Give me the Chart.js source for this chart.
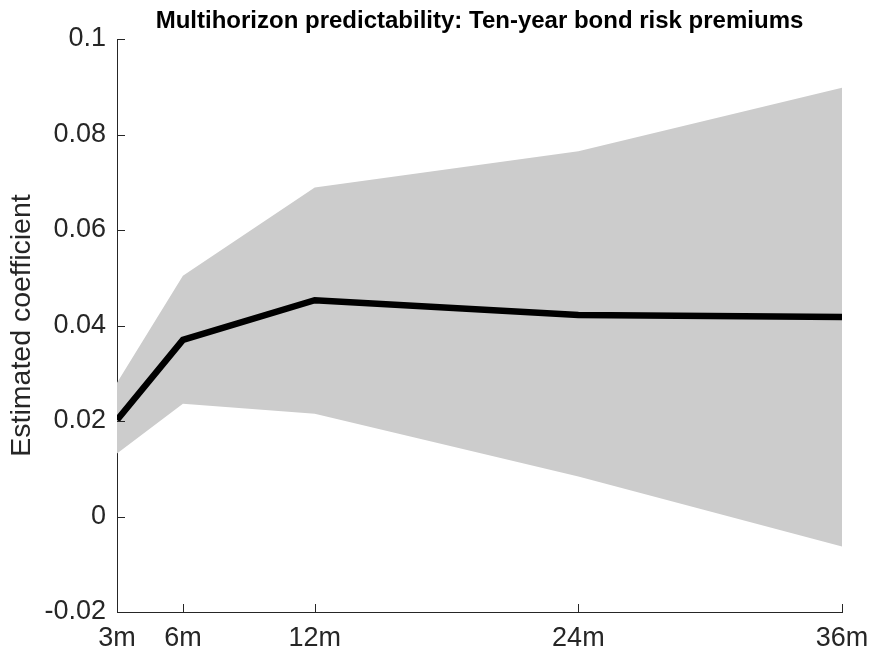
<!DOCTYPE html>
<html>
<head>
<meta charset="utf-8">
<title>Multihorizon predictability</title>
<script src="https://cdn.jsdelivr.net/npm/chart.js@4.4.1/dist/chart.umd.min.js"></script>
<style>
  html, body { margin: 0; padding: 0; background: #fff; }
  #wrap { width: 872px; height: 659px; position: relative; }
</style>
</head>
<body>
<div id="wrap"><canvas id="chart"></canvas></div>
<script>
// Horizons in months and the estimated coefficients with their band
const horizons = [3, 6, 12, 24, 36];
const estimate = [0.0202, 0.0370, 0.0453, 0.0422, 0.0418];
const upperBand = [0.0280, 0.0504, 0.0689, 0.0765, 0.0898];
const lowerBand = [0.0132, 0.0236, 0.0215, 0.0084, -0.0063];
const yTicks = [-0.02, 0, 0.02, 0.04, 0.06, 0.08, 0.1];

const titleText = 'Multihorizon predictability: Ten-year bond risk premiums';
const yTitle = 'Estimated coefficient';

const FONT = '"Liberation Sans", Arial, Helvetica, sans-serif';
const AXIS_COLOR = '#262626';

const toPoints = (ys) => horizons.map((h, i) => ({ x: h, y: ys[i] }));

// MATLAB style tick marks pointing into the plot area
const inwardTicks = {
  id: 'inwardTicks',
  afterDraw(chart) {
    const ctx = chart.ctx;
    const xs = chart.scales.x;
    const ys = chart.scales.y;
    const len = 8;
    ctx.save();
    ctx.strokeStyle = AXIS_COLOR;
    ctx.lineWidth = 1;
    ctx.beginPath();
    ys.ticks.forEach(t => {
      const py = Math.round(ys.getPixelForValue(t.value)) + 0.5;
      ctx.moveTo(ys.right, py);
      ctx.lineTo(ys.right + len, py);
    });
    xs.ticks.forEach(t => {
      const px = Math.round(xs.getPixelForValue(t.value)) + 0.5;
      ctx.moveTo(px, xs.top);
      ctx.lineTo(px, xs.top - len);
    });
    ctx.stroke();
    ctx.restore();
  }
};

// title centred over the plot area, like the axes title
const axesTitle = {
  id: 'axesTitle',
  afterDraw(chart) {
    const ctx = chart.ctx;
    const area = chart.chartArea;
    ctx.save();
    ctx.fillStyle = '#000000';
    ctx.font = 'bold 24px ' + FONT;
    ctx.textAlign = 'center';
    ctx.textBaseline = 'alphabetic';
    ctx.fillText(titleText, (area.left + area.right) / 2, 28);
    ctx.restore();
  }
};

const ctx = document.getElementById('chart').getContext('2d');

new Chart(ctx, {
  type: 'line',
  data: {
    datasets: [
      {
        label: 'Estimate',
        data: toPoints(estimate),
        borderColor: '#000000',
        borderWidth: 6.5,
        borderCapStyle: 'butt',
        borderJoinStyle: 'miter',
        pointRadius: 0,
        fill: false,
        tension: 0,
        order: 0
      },
      {
        label: 'Upper',
        data: toPoints(upperBand),
        borderWidth: 0,
        borderColor: 'rgba(0,0,0,0)',
        backgroundColor: '#cccccc',
        pointRadius: 0,
        fill: '+1',
        tension: 0,
        order: 1
      },
      {
        label: 'Lower',
        data: toPoints(lowerBand),
        borderWidth: 0,
        borderColor: 'rgba(0,0,0,0)',
        pointRadius: 0,
        fill: false,
        tension: 0,
        order: 2
      }
    ]
  },
  options: {
    responsive: true,
    maintainAspectRatio: false,
    animation: false,
    layout: {
      padding: { left: 0, right: 30, top: 39, bottom: 0 }
    },
    plugins: {
      legend: { display: false },
      tooltip: { enabled: false },
      title: { display: false }
    },
    scales: {
      x: {
        type: 'linear',
        min: horizons[0],
        max: horizons[horizons.length - 1],
        afterBuildTicks: (scale) => {
          scale.ticks = horizons.map(v => ({ value: v }));
        },
        afterFit: (scale) => {
          scale.height = 47;
          scale.paddingLeft = 0;
          scale.paddingRight = 0;
        },
        grid: { drawOnChartArea: false, drawTicks: false },
        border: { display: true, color: AXIS_COLOR, width: 1 },
        ticks: {
          color: AXIS_COLOR,
          font: { family: FONT, size: 27 },
          padding: 10,
          maxRotation: 0,
          autoSkip: false,
          callback: (v) => v + 'm'
        }
      },
      y: {
        type: 'linear',
        min: yTicks[0],
        max: yTicks[yTicks.length - 1],
        afterBuildTicks: (scale) => {
          scale.ticks = yTicks.map(v => ({ value: v }));
        },
        afterFit: (scale) => {
          scale.width = 117;
          scale.paddingTop = 0;
          scale.paddingBottom = 0;
        },
        grid: { drawOnChartArea: false, drawTicks: false },
        border: { display: true, color: AXIS_COLOR, width: 1 },
        title: {
          display: true,
          text: yTitle,
          color: AXIS_COLOR,
          font: { family: FONT, size: 28.5 },
          padding: { top: 5, bottom: 0 }
        },
        ticks: {
          color: AXIS_COLOR,
          font: { family: FONT, size: 27 },
          padding: 11,
          autoSkip: false,
          callback: (v) => String(Math.round(v * 100) / 100)
        }
      }
    }
  },
  plugins: [inwardTicks, axesTitle]
});
</script>
</body>
</html>
